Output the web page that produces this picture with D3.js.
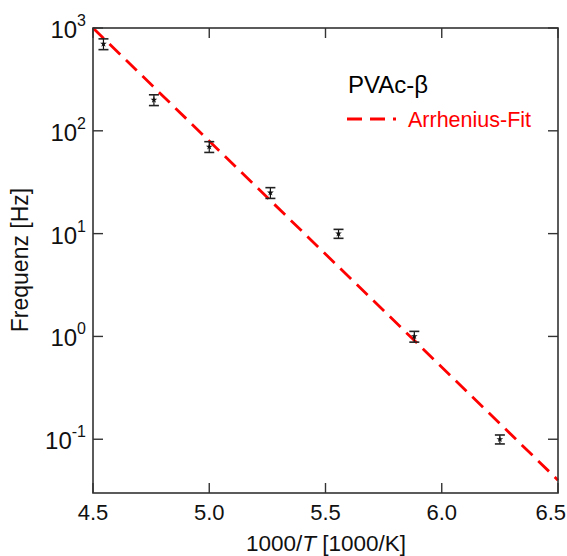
<!DOCTYPE html>
<html><head><meta charset="utf-8">
<script src="https://cdn.jsdelivr.net/npm/d3@7/dist/d3.min.js"></script>
<style>body{margin:0;background:#fff}svg{display:block;font-family:"Liberation Sans",Arial,sans-serif}</style>
</head><body><svg id="c" width="567" height="556"></svg>
<script>
const invT = [4.545, 4.762, 5.0, 5.263, 5.556, 5.882, 6.25];
const freq = [700, 200, 70, 25, 10, 1.0, 0.1];
const relErr = [0.12, 0.12, 0.12, 0.12, 0.1, 0.12, 0.1];
const fitX = [4.5, 6.5];
const fitY = [1000, 0.04];
const xTicks = [4.5, 5.0, 5.5, 6.0, 6.5];
const yTickExp = [-1, 0, 1, 2, 3];

const svg = d3.select("#c");
const L = 93, R = 558, T = 28, B = 493;
const x = d3.scaleLinear().domain([4.5, 6.5]).range([L, R]);
const y = d3.scaleLog().domain([0.03, 1000]).range([B, T]);
const axisCol = "#333";

// fit line
svg.append("line")
  .attr("x1", x(fitX[0])).attr("y1", y(fitY[0]))
  .attr("x2", x(fitX[1])).attr("y2", y(fitY[1]))
  .attr("stroke", "#ff0000").attr("stroke-width", 2.8)
  .attr("stroke-dasharray", "15,8");

// error bars & points
const g = svg.append("g");
invT.forEach((t, i) => {
  const v = freq[i], e = relErr[i];
  const cx = x(t), y1 = y(v * (1 + e)), y2 = y(v * (1 - e));
  g.append("line").attr("x1", cx).attr("x2", cx).attr("y1", y1).attr("y2", y2).attr("stroke", "#111").attr("stroke-width", 1.2);
  [y1, y2].forEach(yy => g.append("line").attr("x1", cx - 5).attr("x2", cx + 5).attr("y1", yy).attr("y2", yy).attr("stroke", "#222").attr("stroke-width", 1.6));
  g.append("path").attr("d", d3.symbol(d3.symbolStar, 14)()).attr("transform", `translate(${cx},${y(v)})`).attr("fill", "#111");
});

// frame
svg.append("rect").attr("x", L).attr("y", T).attr("width", R - L).attr("height", B - T)
  .attr("fill", "none").attr("stroke", axisCol).attr("stroke-width", 1.6);

// x ticks
xTicks.forEach((v, i) => {
  const px = x(v);
  svg.append("line").attr("x1", px).attr("x2", px).attr("y1", B).attr("y2", B - 10).attr("stroke", axisCol).attr("stroke-width", 1.4);
  svg.append("line").attr("x1", px).attr("x2", px).attr("y1", T).attr("y2", T + 10).attr("stroke", axisCol).attr("stroke-width", 1.4);
  const last = i === xTicks.length - 1;
  svg.append("text").attr("x", last ? 566 : px).attr("y", 520)
    .attr("text-anchor", last ? "end" : "middle").attr("font-size", 22).attr("fill", "#111").text(d3.format(".1f")(v));
});

// y ticks
yTickExp.forEach(e => {
  const py = y(Math.pow(10, e));
  svg.append("line").attr("x1", L).attr("x2", L + 10).attr("y1", py).attr("y2", py).attr("stroke", axisCol).attr("stroke-width", 1.4);
  svg.append("line").attr("x1", R).attr("x2", R - 10).attr("y1", py).attr("y2", py).attr("stroke", axisCol).attr("stroke-width", 1.4);
  const t = svg.append("text").attr("x", e < 0 ? 86 : 86).attr("y", py + 10).attr("text-anchor", "end").attr("fill", "#111").attr("font-size", 24);
  t.append("tspan").text("10");
  t.append("tspan").attr("font-size", 16).attr("dy", -12).text(String(e));
});

// axis labels
const xl = svg.append("text").attr("x", 326).attr("y", 551).attr("text-anchor", "middle").attr("font-size", 22.5).attr("fill", "#111");
xl.append("tspan").text("1000/");
xl.append("tspan").attr("font-style", "italic").text("T");
xl.append("tspan").text(" [1000/K]");
svg.append("text").attr("transform", "translate(28,260) rotate(-90)").attr("text-anchor", "middle").attr("font-size", 23).attr("fill", "#111").text("Frequenz [Hz]");

// legend
svg.append("text").attr("x", 348).attr("y", 93).attr("font-size", 24).attr("fill", "#000").text("PVAc-β");
svg.append("line").attr("x1", 347).attr("x2", 396).attr("y1", 119).attr("y2", 119).attr("stroke", "#ff0000").attr("stroke-width", 2.8).attr("stroke-dasharray", "15,8");
svg.append("text").attr("x", 408).attr("y", 127).attr("font-size", 21.5).attr("fill", "#ff0000").text("Arrhenius-Fit");
</script></body></html>
